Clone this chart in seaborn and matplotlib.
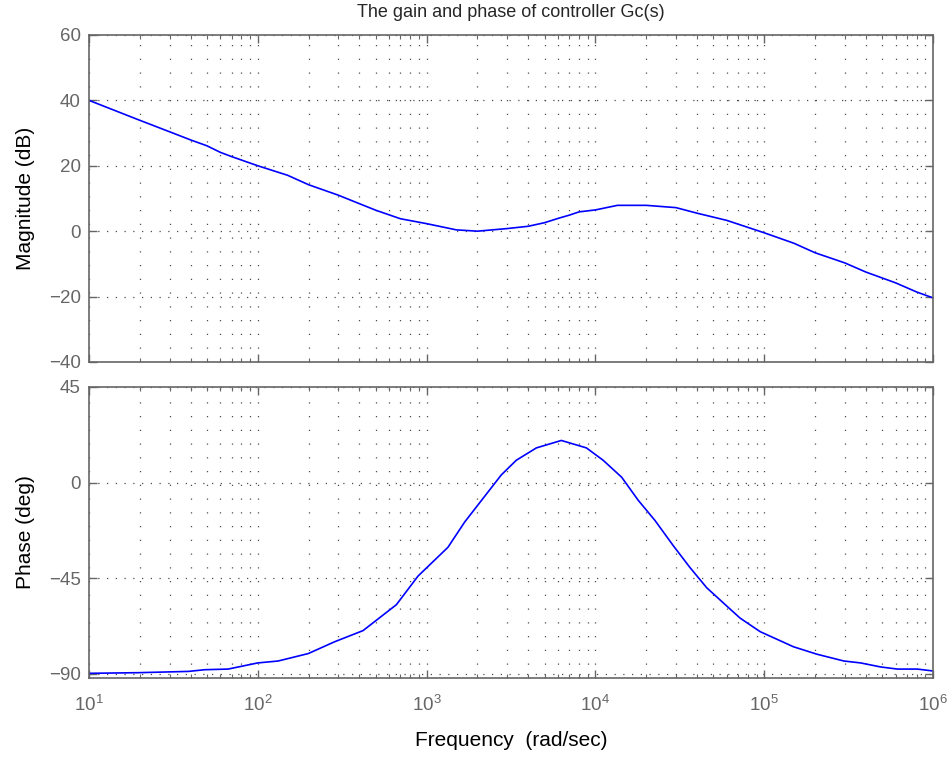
import matplotlib
matplotlib.use("Agg")
import matplotlib.pyplot as plt
import seaborn as sns
from matplotlib.ticker import LogLocator, NullFormatter, FixedLocator

# magnitude curve
mag_freq = [10, 20, 30, 40, 50, 60, 70, 100, 150, 200, 300, 400, 500, 700,
            1000, 1500, 2000, 3000, 4000, 5000, 6000, 7000, 8000, 10000,
            13500, 20000, 30000, 40000, 60000, 100000, 150000, 200000,
            300000, 400000, 600000, 800000, 1000000]
mag_db = [40, 33.9, 30.4, 27.9, 26.1, 24.1, 22.8, 20, 17.1, 14.2, 11, 8.4,
          6.4, 3.8, 2.3, 0.4, 0, 0.8, 1.5, 2.6, 3.9, 4.9, 5.9, 6.5,
          7.9, 7.9, 7.2, 5.5, 3.3, -0.5, -3.7, -6.6,
          -9.7, -12.5, -15.8, -18.6, -20.4]

# phase curve
phase_freq = [10, 19.6, 38.8, 48.5, 66.7, 100, 132, 199, 286, 420, 662, 890,
              1337, 1680, 2770, 3400, 4470, 6280, 8840, 11100, 14300, 17900,
              22500, 28900, 36300, 45600, 57300, 71900, 94600, 149000,
              205000, 296000, 372000, 489000, 614000, 807000, 1000000]
phase_deg = [-89.8, -89.5, -88.9, -88.1, -87.8, -84.9, -84, -80.5, -74.9,
             -69.7, -57.5, -44, -30.5, -18.6, 3.6, 10.5, 16.3, 19.8, 16.3,
             10.5, 2.5, -8.3, -17.8, -29.7, -40, -49.5, -56.7, -63.8, -70.2,
             -77.3, -80.8, -84, -84.9, -86.8, -87.8, -87.8, -88.7]

mag_ticks = [-40, -20, 0, 20, 40, 60]
phase_ticks = [-90, -45, 0, 45]

sns.set_theme(style="white")
plt.rcParams['font.family'] = ['Liberation Sans', 'DejaVu Sans']
plt.rcParams['mathtext.fontset'] = 'custom'
plt.rcParams['mathtext.rm'] = 'Liberation Sans'
plt.rcParams['mathtext.it'] = 'Liberation Sans:italic'
plt.rcParams['axes.unicode_minus'] = True

fig = plt.figure(figsize=(9.52, 7.6), dpi=100)
ax1 = fig.add_axes([0.0935, 0.5237, 0.8866, 0.4303])
ax2 = fig.add_axes([0.0935, 0.1079, 0.8866, 0.383], sharex=ax1)

sns.lineplot(x=mag_freq, y=mag_db, ax=ax1, color='#0000ff', lw=1.2)
sns.lineplot(x=phase_freq, y=phase_deg, ax=ax2, color='#0000ff', lw=1.2)

grey = '#666666'
for ax in (ax1, ax2):
    ax.set_xscale('log')
    ax.set_xlim(10, 1e6)
    ax.xaxis.set_major_locator(LogLocator(base=10, numticks=10))
    ax.xaxis.set_minor_locator(LogLocator(base=10, subs=range(2, 10), numticks=100))
    ax.xaxis.set_minor_formatter(NullFormatter())
    ax.grid(True, which='both', axis='x', ls=(0, (1, 10)), color='#4d4d4d', lw=0.9)
    ax.grid(True, which='major', axis='y', ls=(0, (1, 6)), color='#4d4d4d', lw=0.9)
    ax.tick_params(which='both', direction='in', top=True, right=True,
                   bottom=True, left=True, color=grey, labelcolor='#666666',
                   labelsize=13.5)
    ax.tick_params(axis='y', pad=6)
    ax.tick_params(axis='x', pad=12)
    ax.tick_params(which='major', length=6, width=1)
    ax.tick_params(which='minor', length=3, width=0.8)
    for s in ax.spines.values():
        s.set_color(grey)
        s.set_linewidth(1.2)

ax1.set_ylim(-40, 60)
ax1.yaxis.set_major_locator(FixedLocator(mag_ticks))
ax1.tick_params(axis='x', labelbottom=False)
ax1.set_ylabel('Magnitude (dB)', fontsize=15, color='black', labelpad=10)
ax1.set_title('The gain and phase of controller Gc(s)', fontsize=13, pad=13)

ax2.set_ylim(-92, 45)
ax2.yaxis.set_major_locator(FixedLocator(phase_ticks))
ax2.set_ylabel('Phase (deg)', fontsize=15, color='black', labelpad=10)
ax2.set_xlabel('Frequency  (rad/sec)', fontsize=15, color='black', labelpad=12)

fig.savefig('out.png', dpi=100)
